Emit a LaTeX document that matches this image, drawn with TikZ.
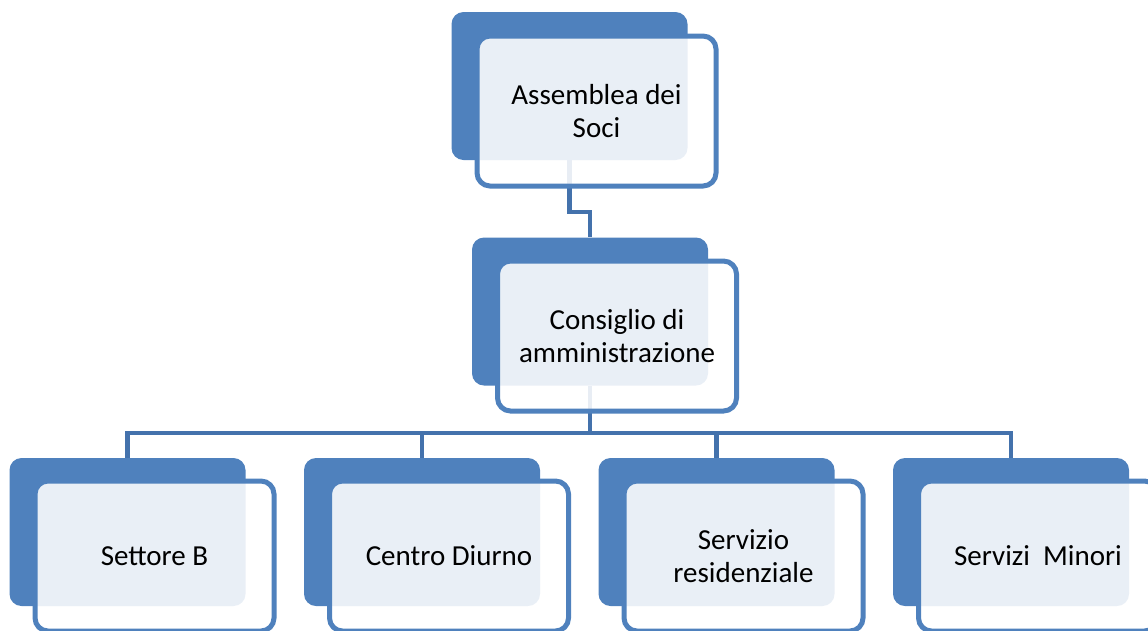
\documentclass[tikz,border=0pt]{standalone}
\usepackage{fontspec}
\setmainfont{Carlito}
\usetikzlibrary{backgrounds}
\definecolor{boxblue}{RGB}{79,129,189}
\definecolor{linkblue}{RGB}{68,114,172}

\begin{document}
\begin{tikzpicture}[x=1pt, y=-1pt]

\tikzset{back/.style={fill=boxblue, shape=rectangle, rounded corners=12pt, minimum width=236pt, minimum height=148pt, inner sep=0}}
\tikzset{front/.style={fill=white, fill opacity=0.88, text opacity=1, draw=boxblue, shape=rectangle, rounded corners=13pt, minimum width=239pt, minimum height=150pt, line width=5pt, inner sep=0, align=center, font=\fontsize{29}{33}\selectfont}}
\tikzset{link/.style={draw=linkblue, line width=4.5pt}}

\useasboundingbox (0,0) rectangle (1148,630);

\node[back] (soci-b) at (569.5,86) {};
\node[front] (soci) at (596.5,111) {Assemblea dei\\Soci};
\node[back] (cda-b) at (590,311.5) {};
\node[front] (cda) at (617,336) {Consiglio di\\amministrazione};
\node[back] (s1-b) at (127.5,532) {};
\node[front] (s1) at (154.5,556) {Settore B};
\node[back] (s2-b) at (422,532) {};
\node[front] (s2) at (449,556) {Centro Diurno};
\node[back] (s3-b) at (716.5,532) {};
\node[front] (s3) at (743.5,556) {Servizio\\residenziale};
\node[back] (s4-b) at (1011,532) {};
\node[front] (s4) at (1038,556) {Servizi~ Minori};

\begin{scope}[on background layer]
\draw[link] (soci-b.south) -- ++(0,52) -| (cda-b.north);
\coordinate (bus) at (590,433);
\draw[link] (cda-b.south) -- (bus);
\draw[link] (s1-b.north) |- (bus) -| (s4-b.north);
\draw[link] (s2-b.north) -- (s2-b.north |- bus);
\draw[link] (s3-b.north) -- (s3-b.north |- bus);
\end{scope}

\end{tikzpicture}
\end{document}
